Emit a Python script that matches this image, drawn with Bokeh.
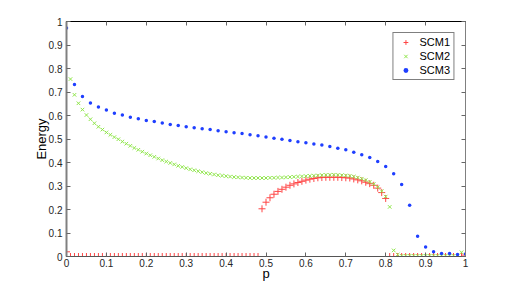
from bokeh.plotting import figure
from bokeh.models import LinearAxis, FixedTicker, Range1d, Legend, LegendItem
from bokeh.embed import file_html
from bokeh.resources import INLINE

# ---------------- data ----------------
p_fine = [0.00, 0.01, 0.02, 0.03, 0.04, 0.05, 0.06, 0.07, 0.08, 0.09,
          0.10, 0.11, 0.12, 0.13, 0.14, 0.15, 0.16, 0.17, 0.18, 0.19,
          0.20, 0.21, 0.22, 0.23, 0.24, 0.25, 0.26, 0.27, 0.28, 0.29,
          0.30, 0.31, 0.32, 0.33, 0.34, 0.35, 0.36, 0.37, 0.38, 0.39,
          0.40, 0.41, 0.42, 0.43, 0.44, 0.45, 0.46, 0.47, 0.48, 0.49,
          0.50, 0.51, 0.52, 0.53, 0.54, 0.55, 0.56, 0.57, 0.58, 0.59,
          0.60, 0.61, 0.62, 0.63, 0.64, 0.65, 0.66, 0.67, 0.68, 0.69,
          0.70, 0.71, 0.72, 0.73, 0.74, 0.75, 0.76, 0.77, 0.78, 0.79,
          0.80, 0.81, 0.82, 0.83, 0.84, 0.85, 0.86, 0.87, 0.88, 0.89,
          0.90, 0.91, 0.92, 0.93, 0.94, 0.95, 0.96, 0.97, 0.98, 0.99,
          1.00]

scm1 = [0.020, 0, 0, 0, 0, 0, 0, 0, 0, 0,
        0, 0, 0, 0, 0, 0, 0, 0, 0, 0,
        0, 0, 0, 0, 0, 0, 0, 0, 0, 0,
        0, 0, 0, 0, 0, 0, 0, 0, 0, 0,
        0, 0, 0, 0, 0, 0, 0, 0, 0, 0.203,
        0.231, 0.250, 0.265, 0.277, 0.286, 0.295, 0.303, 0.309, 0.315, 0.320,
        0.325, 0.329, 0.332, 0.335, 0.336, 0.337, 0.337, 0.337, 0.337, 0.336,
        0.335, 0.334, 0.330, 0.326, 0.322, 0.316, 0.310, 0.303, 0.291, 0.272,
        0.247, 0, 0, 0, 0, 0, 0, 0, 0, 0,
        0, 0, 0, 0, 0, 0, 0, 0, 0, 0,
        0.006]

scm2 = [float("nan"), 0.755, 0.688, 0.652, 0.625, 0.602, 0.584, 0.567, 0.552, 0.540,
        0.528, 0.518, 0.508, 0.499, 0.489, 0.480, 0.471, 0.462, 0.454, 0.446,
        0.438, 0.431, 0.424, 0.417, 0.410, 0.404, 0.398, 0.392, 0.386, 0.381,
        0.376, 0.371, 0.367, 0.363, 0.359, 0.355, 0.352, 0.349, 0.346, 0.344,
        0.342, 0.340, 0.338, 0.337, 0.336, 0.335, 0.334, 0.334, 0.334, 0.334,
        0.334, 0.335, 0.335, 0.336, 0.336, 0.337, 0.338, 0.339, 0.340, 0.341,
        0.342, 0.343, 0.344, 0.345, 0.346, 0.347, 0.347, 0.348, 0.347, 0.346,
        0.345, 0.343, 0.340, 0.336, 0.331, 0.325, 0.317, 0.308, 0.295, 0.278,
        0.255, 0.211, 0.026, 0.008, 0.003, 0.003, 0.003, 0.003, 0.003, 0.003,
        0.003, 0.003, 0.003, 0.003, 0.003, 0.003, 0.003, 0.003, 0.003, 0.018,
        0.005]

p_coarse = [0.00, 0.02, 0.04, 0.06, 0.08, 0.10, 0.12, 0.14, 0.16, 0.18,
            0.20, 0.22, 0.24, 0.26, 0.28, 0.30, 0.32, 0.34, 0.36, 0.38,
            0.40, 0.42, 0.44, 0.46, 0.48, 0.50, 0.52, 0.54, 0.56, 0.58,
            0.60, 0.62, 0.64, 0.66, 0.68, 0.70, 0.72, 0.74, 0.76, 0.78,
            0.80, 0.82, 0.84, 0.86, 0.88, 0.90, 0.92, 0.94, 0.96, 0.98,
            1.00]

scm3 = [0.972, 0.732, 0.681, 0.653, 0.636, 0.623, 0.610, 0.602, 0.593, 0.586,
        0.579, 0.574, 0.568, 0.562, 0.557, 0.552, 0.548, 0.544, 0.540, 0.535,
        0.531, 0.527, 0.523, 0.518, 0.514, 0.508, 0.503, 0.499, 0.494, 0.488,
        0.484, 0.479, 0.475, 0.468, 0.461, 0.454, 0.444, 0.433, 0.421, 0.404,
        0.383, 0.352, 0.306, 0.218, 0.086, 0.040, 0.020, 0.013, 0.013, 0.009,
        0.011]

series_names = ["SCM1", "SCM2", "SCM3"]
tick_values = [0.0, 0.1, 0.2, 0.3, 0.4, 0.5, 0.6, 0.7, 0.8, 0.9, 1.0]
tick_labels = ["0", "0.1", "0.2", "0.3", "0.4", "0.5", "0.6", "0.7", "0.8", "0.9", "1"]

# ---------------- figure ----------------
FONT = "Liberation Sans"

p = figure(frame_width=399, frame_height=235,
           min_border_left=66, min_border_top=21, min_border_right=34, min_border_bottom=0,
           x_range=Range1d(0, 1), y_range=Range1d(0, 1),
           output_backend="svg", toolbar_location=None,
           background_fill_color="white", border_fill_color="white")
p.grid.visible = False
p.outline_line_color = "black"
p.outline_line_width = 1

overrides = {v: l for v, l in zip(tick_values, tick_labels)}
blank = {v: "" for v in tick_values}

def style_axis(ax, show_labels=True):
    ax.ticker = FixedTicker(ticks=tick_values)
    ax.minor_tick_line_color = None
    ax.major_tick_in = 4
    ax.major_tick_out = 0
    ax.major_tick_line_color = "#666666"
    ax.axis_line_color = "#555555"
    ax.major_label_text_font = FONT
    ax.major_label_text_color = "#262626"
    ax.major_label_text_font_size = "10px"
    if show_labels:
        ax.major_label_overrides = overrides
    else:
        ax.major_label_overrides = blank
        ax.major_label_standoff = 0

xa = p.xaxis[0]
ya = p.yaxis[0]
style_axis(xa)
style_axis(ya)
xa.major_label_standoff = 2
ya.major_label_standoff = 4
ya.axis_line_color = "#808080"
ya.axis_line_width = 2
xa.axis_label = "p"
ya.axis_label = "Energy"
for ax in (xa, ya):
    ax.axis_label_text_font = FONT
    ax.axis_label_text_font_size = "13px"
    ax.axis_label_text_font_style = "normal"
    ax.axis_label_text_color = "black"
xa.axis_label_standoff = -4
ya.axis_label_standoff = -3

top_ax = LinearAxis()
right_ax = LinearAxis()
style_axis(top_ax, show_labels=False)
style_axis(right_ax, show_labels=False)
top_ax.axis_line_color = "black"
right_ax.axis_line_color = "#808080"
p.add_layout(top_ax, "above")
p.add_layout(right_ax, "right")

r1 = p.scatter(p_fine, scm1, marker="cross", size=7, line_color="#ff4545", line_width=1)
r2 = p.scatter(p_fine, scm2, marker="x", size=5, line_color="#8fe64a", line_width=1)
r3 = p.scatter(p_coarse, scm3, marker="circle", size=3.5, line_color=None, fill_color="#1f3fff")

legend = Legend(items=[LegendItem(label=series_names[0], renderers=[r1]),
                       LegendItem(label=series_names[1], renderers=[r2]),
                       LegendItem(label=series_names[2], renderers=[r3])],
                location="top_right")
legend.label_text_font = FONT
legend.label_text_font_size = "11px"
legend.label_text_color = "black"
legend.glyph_width = 18
legend.glyph_height = 12
legend.label_height = 12
legend.label_width = 28
legend.label_standoff = 5
legend.spacing = 2
legend.padding = 3
legend.margin = 11
legend.border_line_color = "black"
legend.border_line_width = 1
legend.background_fill_color = "white"
legend.background_fill_alpha = 1
p.add_layout(legend, "center")

open("out.html", "w").write(file_html(p, INLINE))
